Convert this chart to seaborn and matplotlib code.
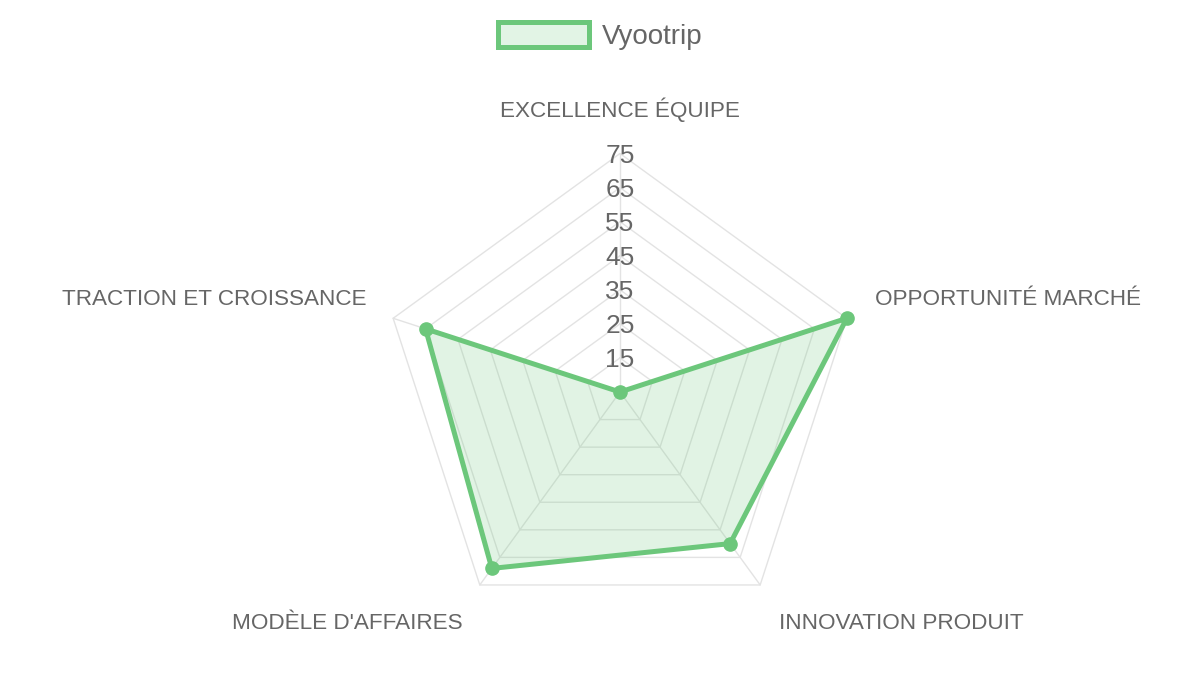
import matplotlib
matplotlib.use("Agg")
import matplotlib.pyplot as plt
import numpy as np
import seaborn as sns
from matplotlib.patches import Patch

categories = [
    "EXCELLENCE ÉQUIPE",
    "OPPORTUNITÉ MARCHÉ",
    "INNOVATION PRODUIT",
    "MODÈLE D'AFFAIRES",
    "TRACTION ET CROISSANCE",
]
values = [5, 75, 60, 69, 65]
tick_values = [15, 25, 35, 45, 55, 65, 75]
scale_min = 5
series_name = "Vyootrip"

green = "#6cc77b"
fill_green = "#e2f4e5"
grid_color = "#e3e3e3"
text_color = "#666666"

sns.set_theme(style="white")
plt.rcParams["font.family"] = ["Liberation Sans", "DejaVu Sans"]

fig = plt.figure(figsize=(12, 6.75), dpi=100)
ax = fig.add_axes([0.3179, 0.0659, 0.3975, 0.7067], projection="polar")
ax.set_theta_zero_location("N")
ax.set_theta_direction(-1)
ax.set_ylim(scale_min, tick_values[-1])
ax.grid(False)
ax.spines["polar"].set_visible(False)
ax.set_xticks([])
ax.set_yticks([])
ax.patch.set_alpha(0)

n = len(categories)
angles = np.linspace(0, 2 * np.pi, n, endpoint=False)
closed = np.append(angles, angles[0])

# pentagon grid + spokes
for v in tick_values:
    ax.plot(closed, [v] * (n + 1), color=grid_color, lw=1.0, zorder=1, clip_on=False)
for a in angles:
    ax.plot([a, a], [scale_min, tick_values[-1]], color=grid_color, lw=1.0, zorder=1, clip_on=False)

vals = np.append(values, values[0])
ax.fill(closed, vals, color=green, alpha=0.2, lw=0, zorder=2)
ax.plot(closed, vals, color=green, lw=3.6, zorder=3, clip_on=False,
        solid_joinstyle="miter")
ax.plot(angles, values, "o", color=green, ms=9.5, zorder=4, clip_on=False)

# tick labels along the top spoke
for v in tick_values:
    ax.text(0, v, str(v), ha="center", va="center_baseline", fontsize=19,
            color=text_color, zorder=5)

# category labels (offsets in pixels from outer vertex)
label_offsets = [(0, 32), (28, 19), (19, -39), (-17, -39), (-27, 19)]
label_align = [("center", "bottom"), ("left", "center"), ("left", "center"),
               ("right", "center"), ("right", "center")]
for a, lab, off, (ha, va) in zip(angles, categories, label_offsets, label_align):
    ax.annotate(lab, xy=(a, tick_values[-1]), xycoords="data",
                xytext=(off[0] * 0.72, off[1] * 0.72), textcoords="offset points",
                ha=ha, va=va, fontsize=16.2, color=text_color, annotation_clip=False)

handle = Patch(facecolor=fill_green, edgecolor=green, linewidth=3.6)
fig.legend([handle], [series_name], loc="center", bbox_to_anchor=(0.5, 1 - 36 / 675),
           frameon=False, fontsize=20, handlelength=3.27, handleheight=1.0,
           handletextpad=0.47, borderpad=0, labelcolor=text_color)

fig.savefig("out.png", dpi=100)
